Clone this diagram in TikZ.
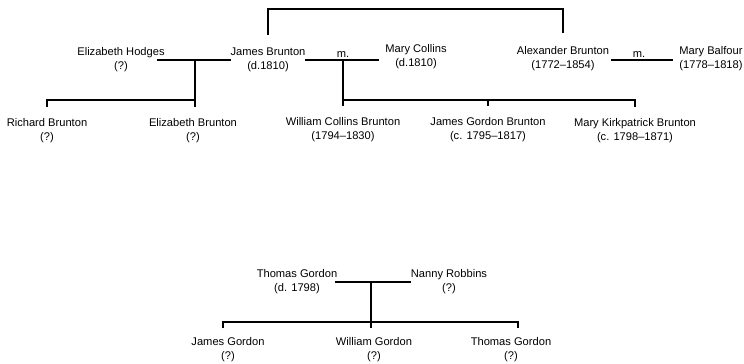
\documentclass[tikz,border=0pt]{standalone}
\usepackage{fontspec}
\setmainfont{Liberation Sans}
\usetikzlibrary{positioning}

\begin{document}
\begin{tikzpicture}[
    x=0.75pt, y=-0.75pt,
    person/.style={align=center, inner sep=0pt, outer sep=0pt, font=\fontsize{8.35}{10.5}\selectfont},
    wed/.style={inner sep=0pt, font=\fontsize{8.35}{10}\selectfont},
    tie/.style={line width=1.4pt}
]
\useasboundingbox (0,0) rectangle (744,364);

% Nodes
\node[person] (hodges) at (121,60) {Elizabeth Hodges\\(?)};
\node[person] (jamesb) at (268,60) {James Brunton\\(d.1810)};
\node[person] (collins) at (416,57) {Mary Collins\\(d.1810)};
\node[person] (alexb) at (563,59) {Alexander Brunton\\(1772–1854)};
\node[person] (balfour) at (711,59) {Mary Balfour\\(1778–1818)};
\node[person] (richard) at (47,131) {Richard Brunton\\(?)};
\node[person] (elizb) at (193,131) {Elizabeth Brunton\\(?)};
\node[person] (william) at (343,130) {William Collins Brunton\\(1794–1830)};
\node[person] (jgordonb) at (488,130) {James Gordon Brunton\\(c. 1795–1817)};
\node[person] (kirk) at (635,131) {Mary Kirkpatrick Brunton\\(c. 1798–1871)};
\node[person] (thomas) at (297,282) {Thomas Gordon\\(d. 1798)};
\node[person] (nanny) at (449,282) {Nanny Robbins\\(?)};
\node[person] (jamesg) at (228,350) {James Gordon\\(?)};
\node[person] (williamg) at (374,350) {William Gordon\\(?)};
\node[person] (thomasg) at (511,350) {Thomas Gordon\\(?)};

% Junctions
\coordinate (top) at (415,9);
\coordinate (m1) at (195,60);
\coordinate (m2) at (343,60);
\coordinate (m3) at (371,282);
\coordinate (bar1) at (195,100);
\coordinate (bar2) at (343,100);
\coordinate (bar3) at (371,322);

\node[wed, above=1.5pt of m2] (wed1) {m.};
\node[wed] (wed2) at (639,55) {m.};

% Lines
\draw[tie] ([yshift=10pt]jamesb.north) |- (top) -| ([yshift=10pt]alexb.north);
\draw[tie] ([xshift=-6pt]hodges.east) -- (jamesb.west);
\draw[tie] (jamesb.east) -- ([xshift=-4.5pt]jamesb.east -| collins.west);
\draw[tie] ([xshift=1.5pt]alexb.east |- m2) -- ([xshift=-4.5pt]m2 -| balfour.west);
\draw[tie] ([xshift=-2pt]thomas.east) -- (nanny.west);

\draw[tie] (m1) -- ([yshift=8.5pt]m1 |- elizb.north);
\draw[tie] (bar1) -| ([yshift=8.5pt]richard.north);

\draw[tie] (m2) -- ([yshift=8.5pt]m2 |- william.north);
\draw[tie] (bar2) -| ([yshift=8.5pt]kirk.north);
\draw[tie] (jgordonb.north |- bar2) -- ([yshift=8.5pt]jgordonb.north);

\draw[tie] (m3) -- ([yshift=7pt]m3 |- williamg.north);
\draw[tie] ([xshift=-3.75pt,yshift=7pt]jamesg.north) |- (bar3) -| ([xshift=5.25pt,yshift=7pt]thomasg.north);

\end{tikzpicture}
\end{document}
